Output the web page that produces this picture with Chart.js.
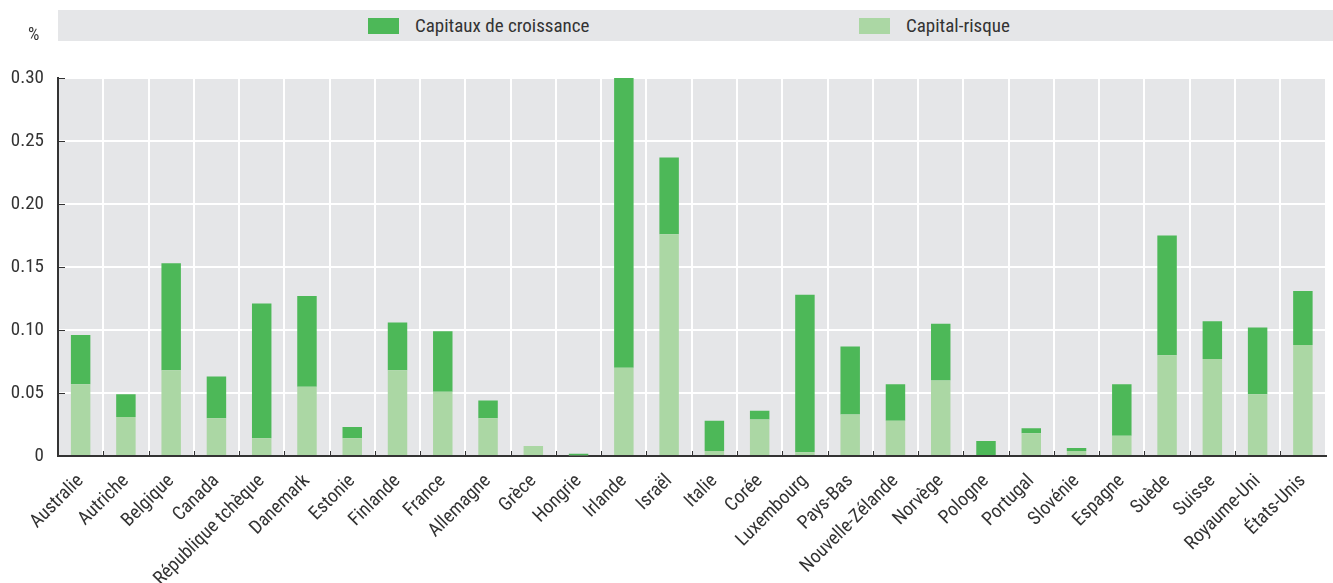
<!DOCTYPE html>
<html>
<head>
<meta charset="utf-8">
<script src="https://cdn.jsdelivr.net/npm/chart.js@4.4.1/dist/chart.umd.min.js"></script>
<style>
    body { margin: 0; background: #fff; font-family: "Roboto Condensed", sans-serif; }
    #wrap { position: relative; width: 1333px; height: 583px; }
    #legend { position: absolute; left: 58px; top: 10px; width: 1275px; height: 31px; background: #e5e6e8; }
    .item { position: absolute; top: 0; height: 31px; display: flex; align-items: center; font-size: 19px; color: #333; }
    .sw { width: 31px; height: 16px; margin-right: 16px; }
    #unit { position: absolute; left: 28px; top: 23px; font-size: 18px; color: #333; }
</style>
</head>
<body>
<div id="wrap">
    <div id="legend">
        <div class="item" style="left:310px"><span class="sw" style="background:#4db858"></span>Capitaux de croissance</div>
        <div class="item" style="left:801px"><span class="sw" style="background:#abd7a4"></span>Capital-risque</div>
    </div>
    <div id="unit">%</div>
    <canvas id="chart" width="1333" height="583"></canvas>
</div>
<script>
var countries = ["Australie", "Autriche", "Belgique", "Canada", "République tchèque", "Danemark", "Estonie",
    "Finlande", "France", "Allemagne", "Grèce", "Hongrie", "Irlande", "Israël", "Italie", "Corée", "Luxembourg",
    "Pays-Bas", "Nouvelle-Zélande", "Norvège", "Pologne", "Portugal", "Slovénie", "Espagne", "Suède", "Suisse",
    "Royaume-Uni", "États-Unis"];

// Capital-risque (bottom segment)
var ventureCapital = [0.057, 0.031, 0.068, 0.030, 0.014, 0.055, 0.014,
    0.068, 0.051, 0.030, 0.008, 0.0005, 0.070, 0.176, 0.004, 0.029, 0.003,
    0.033, 0.028, 0.060, 0.000, 0.018, 0.004, 0.016, 0.080, 0.077,
    0.049, 0.088];

// Capitaux de croissance (top segment)
var growthCapital = [0.039, 0.018, 0.085, 0.033, 0.107, 0.072, 0.009,
    0.038, 0.048, 0.014, 0.000, 0.0012, 0.230, 0.061, 0.024, 0.007, 0.125,
    0.054, 0.029, 0.045, 0.012, 0.004, 0.0024, 0.041, 0.095, 0.030,
    0.053, 0.043];

var yTicks = [0, 0.05, 0.10, 0.15, 0.20, 0.25, 0.30];

var FONT = "'Roboto Condensed', sans-serif";
var TEXT = "#333333";

// gray plot background + inward tick marks
var plotDecor = {
    id: "plotDecor",
    beforeDraw: function(chart) {
        var a = chart.chartArea, ctx = chart.ctx;
        ctx.save();
        ctx.fillStyle = "#e5e6e8";
        ctx.fillRect(a.left, a.top, a.right - a.left, a.bottom - a.top);
        ctx.restore();
    },
    afterDraw: function(chart) {
        var a = chart.chartArea, ctx = chart.ctx;
        var x = chart.scales.x, y = chart.scales.y;
        ctx.save();
        ctx.strokeStyle = TEXT;
        ctx.lineWidth = 1;
        yTicks.forEach(function(v) {
            var py = Math.round(y.getPixelForValue(v)) + 0.5;
            ctx.beginPath();
            ctx.moveTo(a.left, py);
            ctx.lineTo(a.left + 7, py);
            ctx.stroke();
        });
        for (var i = 1; i < countries.length; i++) {
            var px = Math.round((x.getPixelForValue(i - 1) + x.getPixelForValue(i)) / 2) + 0.5;
            ctx.beginPath();
            ctx.moveTo(px, a.bottom);
            ctx.lineTo(px, a.bottom - 5);
            ctx.stroke();
        }
        ctx.restore();
    }
};

new Chart(document.getElementById("chart"), {
    type: "bar",
    data: {
        labels: countries,
        datasets: [{
            label: "Capital-risque",
            data: ventureCapital,
            backgroundColor: "#abd7a4",
            barPercentage: 0.43,
            categoryPercentage: 1
        }, {
            label: "Capitaux de croissance",
            data: growthCapital,
            backgroundColor: "#4db858",
            barPercentage: 0.43,
            categoryPercentage: 1
        }]
    },
    options: {
        responsive: false,
        animation: false,
        layout: { padding: { top: 78, right: 0 } },
        plugins: {
            legend: { display: false },
            tooltip: { enabled: false }
        },
        scales: {
            x: {
                stacked: true,
                grid: { color: "#ffffff", lineWidth: 2, drawTicks: false },
                border: { color: TEXT, width: 2 },
                ticks: {
                    color: TEXT,
                    font: { family: FONT, size: 19 },
                    minRotation: 45,
                    maxRotation: 45,
                    autoSkip: false,
                    padding: 14
                },
                afterFit: function(s) { s.height = 127; }
            },
            y: {
                stacked: true,
                min: 0,
                max: 0.30,
                afterBuildTicks: function(s) {
                    s.ticks = yTicks.map(function(v) { return { value: v }; });
                },
                grid: { color: "#ffffff", lineWidth: 2, drawTicks: false },
                border: { color: TEXT, width: 2 },
                ticks: {
                    color: TEXT,
                    font: { family: FONT, size: 19 },
                    padding: 14,
                    callback: function(v) { return v === 0 ? "0" : v.toFixed(2); }
                },
                afterFit: function(s) { s.width = 58; }
            }
        }
    },
    plugins: [plotDecor]
});
</script>
</body>
</html>
